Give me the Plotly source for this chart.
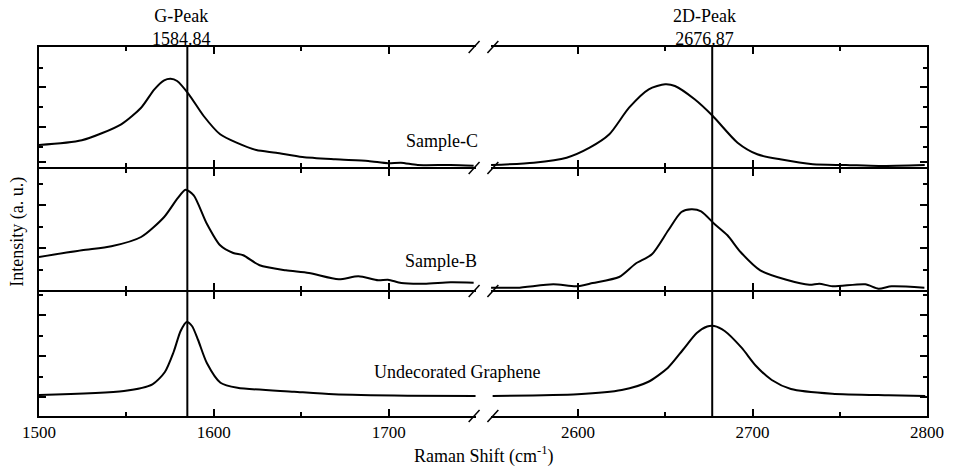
import plotly.graph_objects as go
from plotly.subplots import make_subplots

# ---------------- data (intensity in arbitrary units) ----------------
# Sample-C
c_g_x = [1500, 1524.5, 1547, 1558.4, 1566, 1571.6, 1575.3, 1579, 1585.7, 1594.2, 1603.6, 1613,
         1624.3, 1635.6, 1650.7, 1669.5, 1688.3, 1699.6, 1707, 1716.6, 1735.4, 1748.6]
c_g_y = [22, 26.7, 42.7, 59.3, 77.7, 86.7, 88.3, 86, 72.7, 51, 32.7, 24.3,
         17, 14.3, 10, 7.7, 6, 3.7, 4.3, 2, 2, 1.3]
c_2d_x = [2550.1, 2574.6, 2593.4, 2606.6, 2617.9, 2629.2, 2640.5, 2649.9, 2655.5, 2666.8, 2677.2,
          2691.4, 2702.7, 2715.8, 2734.6, 2753.5, 2772.3, 2798.7]
c_2d_y = [2, 4.3, 9.3, 19.3, 32.7, 59.3, 77.7, 82.7, 81, 67.7, 51,
          24.3, 12.7, 7.7, 2.7, 2, 1, 2]

# Sample-B
b_g_x = [1500, 1524.5, 1541.4, 1558.4, 1571.6, 1579.1, 1583.8, 1588.5, 1596, 1603.6, 1611.1, 1616.8,
         1626.2, 1641.2, 1654.4, 1671.4, 1682.7, 1694, 1699.6, 1707.2, 1720.3, 1735.4, 1748.6]
b_g_y = [33, 39.7, 43.7, 53, 73, 91.3, 100.3, 94.7, 66.3, 44.7, 37, 34.7,
         24.7, 19.7, 17, 10.7, 13.7, 9.7, 10.3, 7, 6.3, 7.7, 7.3]
b_2d_x = [2550.1, 2565.1, 2585.8, 2599, 2608.4, 2623.5, 2632.9, 2642.3, 2651.7, 2659.2, 2664.9,
          2670.5, 2678, 2685.6, 2693.1, 2704.4, 2719.4, 2732.6, 2738.3, 2745.8, 2764.6, 2772.2,
          2779.7, 2798.5]
b_2d_y = [2.3, 2.3, 5.7, 3.7, 7, 13, 26.3, 35.7, 59.7, 78, 80.7,
          78.7, 66.3, 54.7, 38, 19.7, 10.3, 5.3, 6.3, 3.7, 5.7, 1.3,
          3.7, 2.3]

# Undecorated Graphene
u_g_x = [1500, 1548.6, 1564.9, 1572, 1577, 1581, 1584.5, 1587.5, 1591, 1596, 1603.8, 1613.5,
         1645.9, 1668.6, 1710.8, 1749.7]
u_g_y = [21, 25, 31.7, 44, 64, 85, 94, 90, 76, 53, 33.3, 28.3,
         24.3, 21.7, 20.3, 20]
u_2d_x = [2551, 2599.7, 2625, 2640, 2651.5, 2660, 2668, 2674, 2678, 2684, 2693.7, 2702,
          2711, 2722, 2745.6, 2778, 2799]
u_2d_y = [20, 21.7, 26, 34, 48.3, 66, 83, 89.5, 90, 85, 68.3, 50,
          36, 27, 22.3, 20.7, 20]

sample_labels = ["Sample-C", "Sample-B", "Undecorated Graphene"]
g_peak = 1584.84
d2_peak = 2676.87

x_left_range = [1500, 1750]
x_right_range = [2550, 2800]
x_left_major = [1500, 1600, 1700]
x_left_minor = [1550, 1650]
x_right_major = [2600, 2700, 2800]
x_right_minor = [2650, 2750]

y_ranges = [[0, 120], [0, 121], [0, 124]]
y_major = [[5, 40, 80.3], [42, 85], [19.3, 60, 101]]
y_minor = [[20, 60.3, 99.3], [20, 63.3, 106], [39.3, 80.3, 121]]

# ---------------- figure ----------------
FONT = "Liberation Serif"
W, H = 956, 474
L, R, T, B = 39, 938, 47, 416
gap_l, gap_r = 481.5, 496.5
LW = 2


def px2x(px):
    return (px - L) / (R - L)


def py2y(py):
    return (B - py) / (B - T)


fig = make_subplots(rows=3, cols=2, horizontal_spacing=0.02, vertical_spacing=0)

series = [
    (c_g_x, c_g_y, c_2d_x, c_2d_y),
    (b_g_x, b_g_y, b_2d_x, b_2d_y),
    (u_g_x, u_g_y, u_2d_x, u_2d_y),
]
line = dict(color="black", width=2, shape="spline", smoothing=0.7)
for r, (gx, gy, dx, dy) in enumerate(series, start=1):
    fig.add_trace(go.Scatter(x=gx, y=gy, mode="lines", line=line, showlegend=False), row=r, col=1)
    fig.add_trace(go.Scatter(x=dx, y=dy, mode="lines", line=line, showlegend=False), row=r, col=2)

# row pixel bounds (bottom, top); a gap of LW px lets neighbouring axis lines coincide
row_bounds = [(167, 47), (290, 169), (416, 292)]
for r in range(1, 4):
    b_px, t_px = row_bounds[r - 1]
    dom_y = [py2y(b_px), py2y(t_px)]
    common_x = dict(showline=True, linecolor="black", linewidth=LW, mirror="allticks",
                    ticks="inside", ticklen=7, tickwidth=1.5, tickcolor="black",
                    showgrid=False, zeroline=False,
                    tickfont=dict(family=FONT, size=17, color="black"),
                    showticklabels=(r == 3))
    fig.update_xaxes(domain=[0, px2x(gap_l)], range=x_left_range, tickmode="array",
                     tickvals=x_left_major,
                     minor=dict(tickmode="array", tickvals=x_left_minor, ticks="inside",
                                ticklen=4, tickwidth=1.5, tickcolor="black"),
                     row=r, col=1, **common_x)
    fig.update_xaxes(domain=[px2x(gap_r), 1], range=x_right_range, tickmode="array",
                     tickvals=x_right_major,
                     minor=dict(tickmode="array", tickvals=x_right_minor, ticks="inside",
                                ticklen=4, tickwidth=1.5, tickcolor="black"),
                     row=r, col=2, **common_x)
    common_y = dict(domain=dom_y, range=y_ranges[r - 1], showline=True, linecolor="black",
                    linewidth=LW, ticks="inside", ticklen=7, tickwidth=1.5, tickcolor="black",
                    showticklabels=False, showgrid=False, zeroline=False,
                    tickmode="array", tickvals=y_major[r - 1],
                    minor=dict(tickmode="array", tickvals=y_minor[r - 1], ticks="inside",
                               ticklen=4, tickwidth=1.5, tickcolor="black"))
    fig.update_yaxes(side="left", row=r, col=1, **common_y)
    fig.update_yaxes(side="right", row=r, col=2, **common_y)

# peak marker lines
fig.add_shape(type="line", xref="x5", yref="paper", x0=g_peak, x1=g_peak, y0=0, y1=1,
              line=dict(color="black", width=2))
fig.add_shape(type="line", xref="x6", yref="paper", x0=d2_peak, x1=d2_peak, y0=0, y1=1,
              line=dict(color="black", width=2))

# axis break marks
for ypx in [47, 168, 291, 416]:
    for x0 in [474, 493]:
        fig.add_shape(type="line", xref="paper", yref="paper",
                      x0=px2x(x0), y0=py2y(ypx + 6), x1=px2x(x0 + 11), y1=py2y(ypx - 6),
                      line=dict(color="black", width=1.5))

afont = dict(family=FONT, size=18, color="black")
fig.add_annotation(x=g_peak, xref="x", y=1, yref="paper", yanchor="bottom",
                   text="G-Peak<br>" + f"{g_peak:.2f}", showarrow=False, font=afont,
                   xshift=-6, yshift=-4)
fig.add_annotation(x=d2_peak, xref="x2", y=1, yref="paper", yanchor="bottom",
                   text="2D-Peak<br>" + f"{d2_peak:.2f}", showarrow=False, font=afont,
                   xshift=-8, yshift=-4)

label_pos = [(447, 141), (446, 261), (462, 372)]
for text, (lx, ly) in zip(sample_labels, label_pos):
    fig.add_annotation(x=px2x(lx), xref="paper", y=py2y(ly), yref="paper",
                       text=text, showarrow=False, font=afont,
                       xanchor="center", yanchor="middle")

fig.add_annotation(x=0.5, xref="paper", y=py2y(455), yref="paper",
                   text="Raman Shift (cm<sup>-1</sup>)", showarrow=False, font=afont,
                   yanchor="middle")
fig.add_annotation(x=px2x(17), xref="paper", y=0.5, yref="paper",
                   text="Intensity (a. u.)", showarrow=False, font=afont,
                   textangle=-90, xanchor="center", yanchor="middle")

fig.update_layout(width=W, height=H, margin=dict(l=L, r=W - R, t=T, b=H - B),
                  paper_bgcolor="white", plot_bgcolor="white", showlegend=False,
                  font=dict(family=FONT, size=17, color="black"))

fig.write_html("out.html")
